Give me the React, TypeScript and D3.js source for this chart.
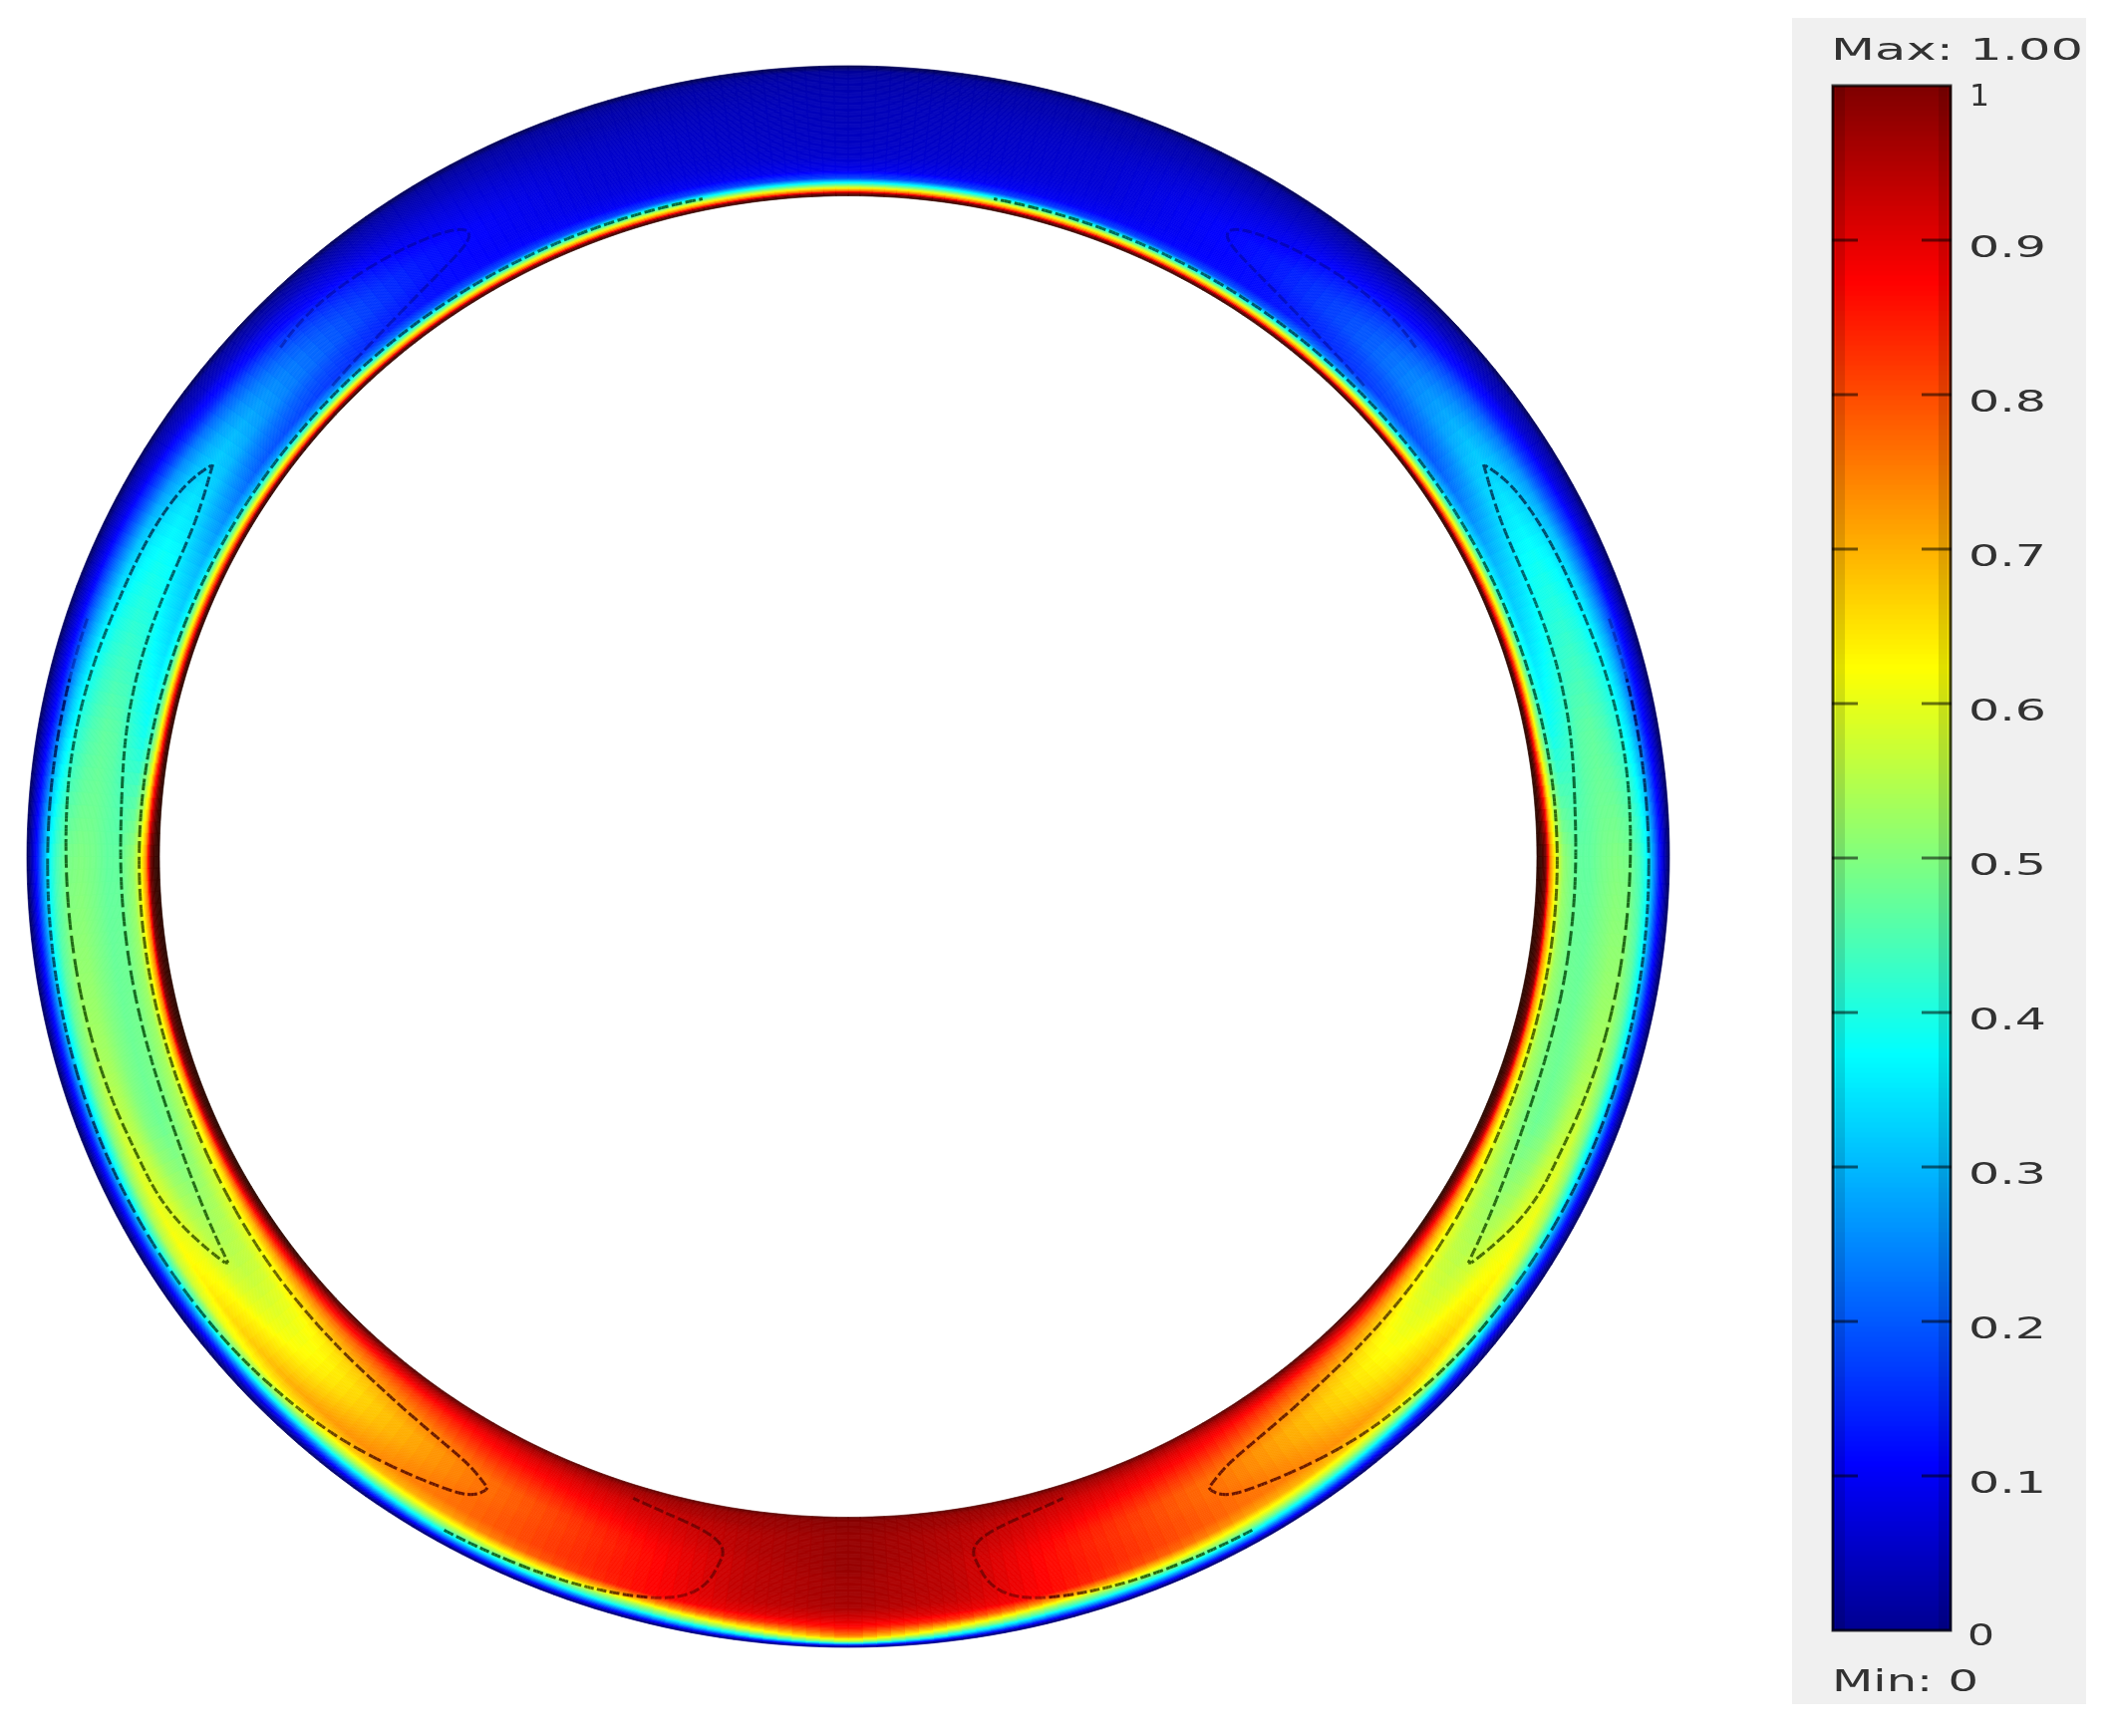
import React, { useMemo } from "react";
import * as d3 from "d3";

const WIDTH = 2117;
const HEIGHT = 1742;

// Normalised radial stops across the ring: 0 = inner rim, 1 = outer rim
const T_STOPS = [0, 0.02, 0.04, 0.07, 0.1, 0.14, 0.2, 0.3, 0.4, 0.5, 0.6, 0.7, 0.78, 0.84, 0.88, 0.92, 0.96, 1];
// Angles from the top of the ring, degrees (field is mirrored left/right)
const ANGLES = [0, 20, 35, 45, 55, 65, 80, 90, 105, 112, 125, 135, 150, 165, 172, 180];

const F000 = [1.1, 1.02, 0.78, 0.58, 0.4, 0.18, 0.09, 0.06, 0.05, 0.045, 0.04, 0.04, 0.035, 0.03, 0.03, 0.02, 0.01, -0.06];
const F020 = [1.1, 1.02, 0.78, 0.58, 0.4, 0.18, 0.1, 0.08, 0.07, 0.065, 0.06, 0.05, 0.04, 0.03, 0.03, 0.02, 0.01, -0.06];
const F035 = [1.1, 1.02, 0.78, 0.58, 0.4, 0.2, 0.12, 0.12, 0.13, 0.13, 0.11, 0.09, 0.07, 0.05, 0.04, 0.03, 0.01, -0.06];
const F045 = [1.1, 1.04, 0.78, 0.6, 0.42, 0.25, 0.16, 0.18, 0.21, 0.21, 0.19, 0.15, 0.1, 0.08, 0.05, 0.03, 0.01, -0.06];
const F055 = [1.1, 1.05, 0.8, 0.6, 0.45, 0.28, 0.2, 0.24, 0.29, 0.31, 0.28, 0.22, 0.14, 0.1, 0.06, 0.04, 0.02, -0.06];
const F065 = [1.1, 1.06, 0.85, 0.66, 0.52, 0.36, 0.3, 0.33, 0.37, 0.38, 0.36, 0.31, 0.22, 0.15, 0.1, 0.06, 0.02, -0.05];
const F080 = [1.1, 1.08, 0.95, 0.72, 0.56, 0.44, 0.39, 0.42, 0.46, 0.47, 0.45, 0.41, 0.33, 0.24, 0.15, 0.09, 0.03, -0.05];
const F090 = [1.1, 1.09, 1.08, 1.02, 0.76, 0.62, 0.52, 0.47, 0.47, 0.49, 0.5, 0.49, 0.44, 0.37, 0.27, 0.15, 0.05, -0.05];
const F105 = [1.1, 1.09, 1.07, 1.0, 0.76, 0.62, 0.53, 0.49, 0.48, 0.5, 0.53, 0.54, 0.48, 0.38, 0.27, 0.15, 0.05, -0.05];
const F112 = [1.1, 1.09, 1.06, 0.96, 0.76, 0.62, 0.55, 0.5, 0.48, 0.5, 0.55, 0.58, 0.5, 0.38, 0.28, 0.15, 0.05, -0.05];
const F125 = [1.1, 1.07, 1.0, 0.9, 0.82, 0.72, 0.62, 0.57, 0.56, 0.58, 0.62, 0.64, 0.58, 0.45, 0.3, 0.17, 0.05, -0.05];
const F135 = [1.08, 1.02, 0.96, 0.9, 0.85, 0.78, 0.72, 0.65, 0.63, 0.64, 0.67, 0.71, 0.65, 0.52, 0.38, 0.2, 0.06, -0.05];
const F150 = [1.05, 1.0, 0.96, 0.93, 0.9, 0.88, 0.85, 0.8, 0.76, 0.76, 0.77, 0.77, 0.72, 0.6, 0.5, 0.36, 0.17, -0.05];
const F165 = [1.05, 1.0, 0.97, 0.96, 0.95, 0.93, 0.92, 0.9, 0.88, 0.87, 0.87, 0.87, 0.87, 0.7, 0.55, 0.42, 0.2, -0.05];
const F172 = [1.05, 1.0, 0.98, 0.97, 0.97, 0.96, 0.95, 0.95, 0.94, 0.94, 0.94, 0.93, 0.9, 0.82, 0.68, 0.54, 0.32, -0.05];
const F180 = [1.05, 1.0, 0.99, 0.99, 0.985, 0.98, 0.98, 0.98, 0.98, 0.97, 0.97, 0.96, 0.92, 0.88, 0.83, 0.75, 0.55, -0.05];
const FIELD = [F000, F020, F035, F045, F055, F065, F080, F090, F105, F112, F125, F135, F150, F165, F172, F180];

// Contour lines as [angle, t] pairs
const LOBE_MID: number[][] = [
  [57.3, 0.5], [57.3, 0.5], [62, 0.36], [69, 0.36], [74, 0.36], [80, 0.34], [85, 0.3], [90, 0.29], [105, 0.29], [112, 0.31], [118, 0.37],
  [124.6, 0.47], [124.6, 0.47], [120.5, 0.6], [116.8, 0.66], [113.4, 0.65], [107.2, 0.69], [90.5, 0.7], [83.7, 0.72], [79, 0.71], [74.4, 0.69],
  [70.3, 0.66], [64.4, 0.65], [59.5, 0.6], [57.3, 0.5], [57.3, 0.5],
];
const LOBE_TOP: number[][] = [
  [47, 0.66], [43, 0.72], [34.9, 0.64], [30.5, 0.55], [30, 0.45], [32, 0.36], [39.5, 0.22], [47, 0.17],
];
const LOBE_LOW: number[][] = [
  [72, 0.84], [80, 0.84], [90, 0.84], [108, 0.87], [115.5, 0.87], [130, 0.85], [135.6, 0.8], [140.2, 0.77], [148, 0.63], [150.6, 0.58],
  [151.3, 0.46], [151.3, 0.46], [150, 0.4], [148, 0.34], [141, 0.27], [136, 0.25], [125, 0.22], [112, 0.15], [90, 0.16], [70, 0.13], [50, 0.12], [30, 0.11], [12, 0.09],
];
const LOBE_BOTTOM: number[][] = [
  [150, 0.9], [158, 0.88], [161, 0.86], [164, 0.83], [167.6, 0.77], [169.5, 0.62], [170, 0.45], [170, 0.45], [170.5, 0.3], [168, 0.18], [162, 0.1],
];
const CONTOURS = [LOBE_MID, LOBE_TOP, LOBE_LOW, LOBE_BOTTOM];

// Jet colour map; the stops beyond 0..1 darken the two rims of the ring only
const JET_STOPS = [-0.1, 0, 0.11, 0.375, 0.625, 0.875, 1, 1.1];
const JET_COLORS = ["#000028", "#00008f", "#0000ff", "#00ffff", "#ffff00", "#ff0000", "#800000", "#2a0800"];

// Legend
const TICK_VALUES = [1, 0.9, 0.8, 0.7, 0.6, 0.5, 0.4, 0.3, 0.2, 0.1, 0];
const TICK_LABELS = ["1", "0.9", "0.8", "0.7", "0.6", "0.5", "0.4", "0.3", "0.2", "0.1", "0"];
const MAX_LABEL = "Max: 1.00";
const MIN_LABEL = "Min: 0";

const CX = 851;
const CY = 859.5;
const jet = d3.scaleLinear<string>().domain(JET_STOPS).range(JET_COLORS).clamp(true);
const radiusX = d3.scaleLinear().domain([0, 1]).range([691, 824]);
const radiusY = d3.scaleLinear().domain([0, 1]).range([663, 793.5]);
const columns = T_STOPS.map((_, j) => d3.scaleLinear().domain(ANGLES).range(FIELD.map((r) => r[j])));

const toXY = (deg: number, t: number): [number, number] => {
  const a = (deg * Math.PI) / 180;
  return [CX + radiusX(t) * Math.sin(a), CY - radiusY(t) * Math.cos(a)];
};

const rowAt = (deg: number) => {
  const d = Math.abs(deg);
  const fold = d > 180 ? 360 - d : d;
  return d3.scaleLinear().domain(T_STOPS).range(columns.map((c) => c(fold)));
};

// Contour ink: the local field colour, darkened and saturated
const inkOf = (v: number) => {
  const c = d3.rgb(jet(v));
  const k = (x: number) => Math.round(((x * x) / 255) * 0.42);
  return d3.rgb(k(c.r), k(c.g), k(c.b)).formatHex();
};

const line = d3.line();

function Ring() {
  const cells = useMemo(() => {
    const out: { d: string; c: string }[] = [];
    const nA = 360;
    const nT = 110;
    for (let i = 0; i < nA; i++) {
      const a0 = (i * 360) / nA;
      const a1 = ((i + 1) * 360) / nA;
      const row = rowAt(a0 + 180 / nA);
      for (let j = 0; j < nT; j++) {
        const t0 = j / nT;
        const t1 = (j + 1) / nT;
        const c = jet(row((t0 + t1) / 2));
        out.push({ d: line([toXY(a0, t0), toXY(a1, t0), toXY(a1, t1), toXY(a0, t1)])! + "Z", c });
      }
    }
    return out;
  }, []);
  return (
    <g>
      {cells.map((k, i) => (
        <path key={i} d={k.d} fill={k.c} stroke={k.c} strokeWidth={0.7} />
      ))}
    </g>
  );
}

function Contours() {
  const segs = useMemo(() => {
    const out: { d: string; c: string; o: number }[] = [];
    for (const side of [1, -1]) {
      for (const pts of CONTOURS) {
        const fa = d3.interpolateBasis(pts.map((p) => p[0]));
        const ft = d3.interpolateBasis(pts.map((p) => p[1]));
        const n = pts.length * 60;
        let count = 0;
        let start = toXY(side * fa(0), ft(0));
        let startU = 0;
        for (let i = 1; i <= n; i++) {
          const u = i / n;
          const p = toXY(side * fa(u), ft(u));
          if (Math.hypot(p[0] - start[0], p[1] - start[1]) < 3) continue;
          count += 1;
          const mid = (u + startU) / 2;
          const v = rowAt(fa(mid))(ft(mid));
          if (count % 4 !== 0) {
            out.push({ d: line([start, p])!, c: inkOf(v), o: v < 0.22 ? 0.4 : v > 0.8 ? 0.6 : 1 });
          }
          start = p;
          startU = u;
        }
      }
    }
    return out;
  }, []);
  return (
    <g filter="url(#soft)">
      {segs.map((s, i) => (
        <path key={i} d={s.d} stroke={s.c} strokeOpacity={s.o} strokeWidth={3} fill="none" strokeLinecap="butt" />
      ))}
    </g>
  );
}

function Legend() {
  const barX0 = 1838, barX1 = 1958;
  const y = d3.scaleLinear().domain([0, 1]).range([1636, 86]);
  const steps = d3.range(1 / 310, 1.0001, 1 / 310);
  const font = { fontFamily: "DejaVu Sans", fontSize: 31, fill: "#333333" };
  return (
    <g>
      <rect x={1798} y={18} width={295} height={1692} fill="#f0f0f0" />
      {steps.map((v, i) => (
        <rect key={i} x={barX0} y={y(v)} width={barX1 - barX0} height={5.5} fill={jet(v)} />
      ))}
      <rect x={barX0 + 1} y={y(1)} width={barX1 - barX0 - 2} height={y(0) - y(1)} fill="none" stroke="#000" strokeOpacity={0.75} strokeWidth={3} />
      <rect x={barX0 + 4} y={y(1)} width={9} height={y(0) - y(1)} fill="#000" fillOpacity={0.12} />
      <rect x={barX1 - 13} y={y(1)} width={9} height={y(0) - y(1)} fill="#000" fillOpacity={0.12} />
      {TICK_VALUES.slice(1, -1).map((v) => (
        <g key={v} stroke="#000" strokeOpacity={0.55} strokeWidth={3}>
          <line x1={barX0} x2={barX0 + 26} y1={y(v)} y2={y(v)} />
          <line x1={barX1 - 30} x2={barX1} y1={y(v)} y2={y(v)} />
        </g>
      ))}
      <g filter="url(#softText)">
        {TICK_VALUES.map((v, i) => (
          <text key={v} x={TICK_LABELS[i].length > 1 ? 1975 : i === 0 ? 1976 : 1974} y={y(v) + (i === 0 ? 20 : i === 10 ? 15 : 17)} {...font}
            textLength={TICK_LABELS[i].length > 1 ? 78 : i === 0 ? 20 : 27} lengthAdjust="spacingAndGlyphs">
            {TICK_LABELS[i]}
          </text>
        ))}
        <text x={1837} y={60} {...font} textLength={253} lengthAdjust="spacingAndGlyphs">{MAX_LABEL}</text>
        <text x={1838} y={1697} {...font} textLength={147} lengthAdjust="spacingAndGlyphs">{MIN_LABEL}</text>
      </g>
    </g>
  );
}

export default function App() {
  return (
    <svg width={WIDTH} height={HEIGHT} viewBox={`0 0 ${WIDTH} ${HEIGHT}`}
      style={{ position: "absolute", left: 0, top: 0, display: "block", background: "#fff" }}>
      <defs>
        <filter id="soft"><feGaussianBlur stdDeviation={0.5} /></filter>
        <filter id="softText"><feGaussianBlur stdDeviation={0.7} /></filter>
      </defs>
      <Ring />
      <Contours />
      <Legend />
    </svg>
  );
}
